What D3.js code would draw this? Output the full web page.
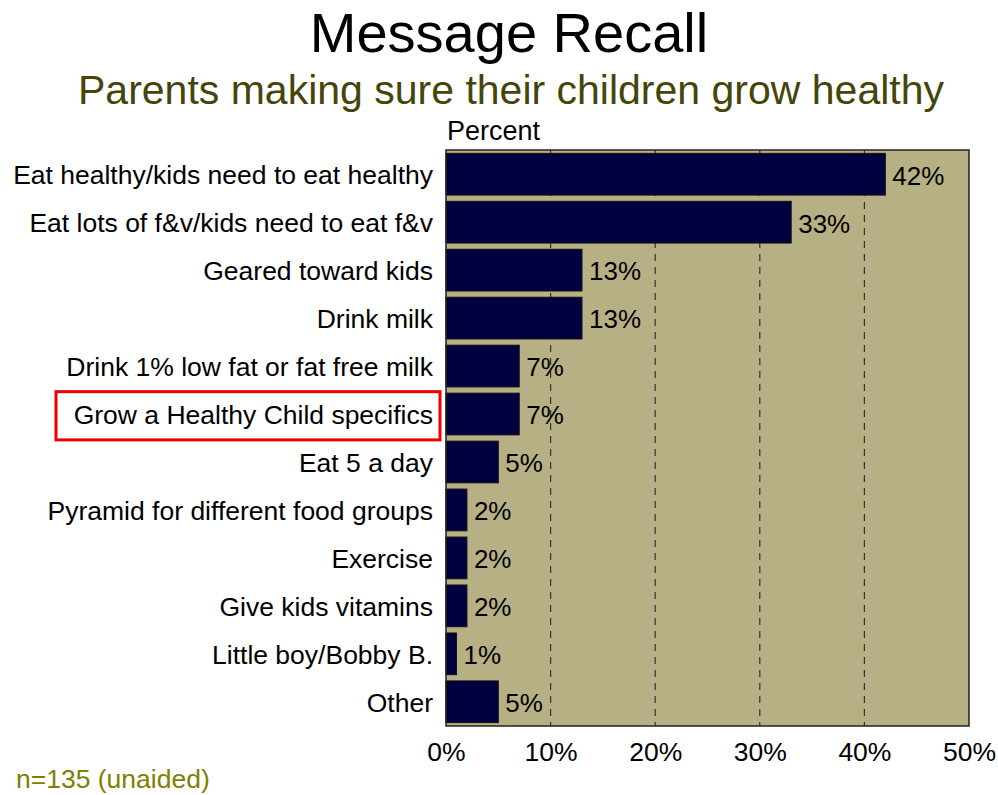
<!DOCTYPE html>
<html>
<head>
<meta charset="utf-8">
<script src="https://cdn.jsdelivr.net/npm/d3@7"></script>
<style>
  html, body { margin: 0; padding: 0; background: #ffffff; }
  svg { display: block; font-family: "Liberation Sans", Arial, sans-serif; }
</style>
</head>
<body>
<script>
// Recalled messages and the share of parents naming each one
const categories = [
  "Eat healthy/kids need to eat healthy",
  "Eat lots of f&v/kids need to eat f&v",
  "Geared toward kids",
  "Drink milk",
  "Drink 1% low fat or fat free milk",
  "Grow a Healthy Child specifics",
  "Eat 5 a day",
  "Pyramid for different food groups",
  "Exercise",
  "Give kids vitamins",
  "Little boy/Bobby B.",
  "Other"
];
const percents = [42, 33, 13, 13, 7, 7, 5, 2, 2, 2, 1, 5];
const tickValues = [0, 10, 20, 30, 40, 50];
const highlighted = ["Grow a Healthy Child specifics"];

const W = 998, H = 795;
const plot = { left: 446, right: 969, top: 150, bottom: 726 };
const FONT = "Liberation Sans, Arial, sans-serif";

const svg = d3.select("body").append("svg")
  .attr("width", W).attr("height", H);

const x = d3.scaleLinear().domain([0, 50]).range([plot.left, plot.right]);
const y = d3.scaleBand().domain(categories)
  .range([plot.top, plot.bottom]).paddingInner(0.13).paddingOuter(0.07);

// Titles
svg.append("text").attr("x", 509).attr("y", 52)
  .attr("text-anchor", "middle").attr("font-size", 56).attr("fill", "#000")
  .text("Message Recall");
svg.append("text").attr("x", 511).attr("y", 104)
  .attr("text-anchor", "middle").attr("font-size", 41).attr("fill", "#45450a")
  .text("Parents making sure their children grow healthy");
svg.append("text").attr("x", plot.left + 1).attr("y", 140)
  .attr("font-size", 27).attr("fill", "#000").text("Percent");

// Plot background
svg.append("rect")
  .attr("x", plot.left).attr("y", plot.top)
  .attr("width", plot.right - plot.left).attr("height", plot.bottom - plot.top)
  .attr("fill", "#b8b085");

// Dashed gridlines
svg.append("g").selectAll("line")
  .data(tickValues.filter(d => d > 0 && d < 50))
  .join("line")
  .attr("x1", d => x(d)).attr("x2", d => x(d))
  .attr("y1", plot.top).attr("y2", plot.bottom)
  .attr("stroke", "#333").attr("stroke-width", 1.2)
  .attr("stroke-dasharray", "7,6");

// Bars
svg.append("g").selectAll("rect")
  .data(categories)
  .join("rect")
  .attr("x", x(0))
  .attr("y", d => y(d))
  .attr("width", (d, i) => x(percents[i]) - x(0))
  .attr("height", y.bandwidth())
  .attr("fill", "#000040")
  .attr("stroke", "#111").attr("stroke-width", 1);

// Value labels
svg.append("g").selectAll("text")
  .data(categories)
  .join("text")
  .attr("x", (d, i) => x(percents[i]) + 7)
  .attr("y", d => y(d) + y.bandwidth() / 2 + 1)
  .attr("dy", "0.36em")
  .attr("font-size", 26).attr("fill", "#000")
  .text((d, i) => percents[i] + "%");

// Plot frame
svg.append("rect")
  .attr("x", plot.left).attr("y", plot.top)
  .attr("width", plot.right - plot.left).attr("height", plot.bottom - plot.top)
  .attr("fill", "none").attr("stroke", "#222").attr("stroke-width", 1.5);

// Category axis
const yAxis = svg.append("g")
  .attr("transform", `translate(${plot.left},1.5)`)
  .call(d3.axisLeft(y).tickSize(0).tickPadding(13));
yAxis.select(".domain").remove();
yAxis.selectAll("text")
  .attr("font-size", 26.5).attr("fill", "#000")
  .attr("font-family", FONT);

// Value axis
const xAxis = svg.append("g")
  .attr("transform", `translate(0,${plot.bottom})`)
  .call(d3.axisBottom(x).tickValues(tickValues).tickSize(0).tickPadding(16)
    .tickFormat(d => d + "%"));
xAxis.select(".domain").remove();
xAxis.selectAll("text")
  .attr("font-size", 26.5).attr("fill", "#000")
  .attr("font-family", FONT);

// Highlight box around selected category labels
highlighted.forEach(c => {
  svg.append("rect")
    .attr("x", 56).attr("y", y(c) - 1.5)
    .attr("width", 384).attr("height", y.bandwidth() + 6.5)
    .attr("fill", "none").attr("stroke", "#ee0000").attr("stroke-width", 3);
});

// Sample note
svg.append("text").attr("x", 16).attr("y", 788)
  .attr("font-size", 26.5).attr("fill", "#808000")
  .text("n=135 (unaided)");
</script>
</body>
</html>
